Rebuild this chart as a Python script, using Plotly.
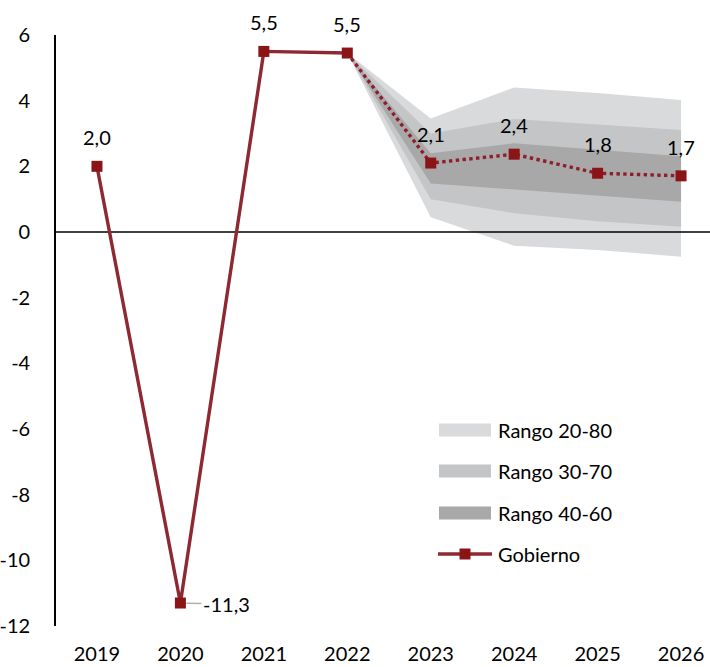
import plotly.graph_objects as go

years = [2019, 2020, 2021, 2022, 2023, 2024, 2025, 2026]
gobierno = [2.0, -11.3, 5.5, 5.45, 2.1, 2.37, 1.79, 1.71]
labels = ["2,0", "-11,3", "5,5", "5,5", "2,1", "2,4", "1,8", "1,7"]

fan_years = [2022, 2023, 2024, 2025, 2026]
r20_80_hi = [5.45, 3.46, 4.40, 4.23, 4.02]
r20_80_lo = [5.45, 0.45, -0.42, -0.55, -0.75]
r30_70_hi = [5.45, 3.00, 3.44, 3.28, 3.11]
r30_70_lo = [5.45, 1.00, 0.57, 0.33, 0.16]
r40_60_hi = [5.45, 2.40, 2.70, 2.50, 2.31]
r40_60_lo = [5.45, 1.48, 1.30, 1.10, 0.92]

band_names = ["Rango 20-80", "Rango 30-70", "Rango 40-60"]
band_colors = ["#d9dadc", "#c4c5c7", "#a8a8a8"]
line_color = "#8e2832"
marker_color = "#8b1416"
dot_color = "#8e1e2c"

X_RANGE = [2018.509, 2026.347]
Y_RANGE = [-12, 6]
FONT = "Lato"
FS = 20

fig = go.Figure()

bands = [(r20_80_hi, r20_80_lo), (r30_70_hi, r30_70_lo), (r40_60_hi, r40_60_lo)]
for (hi, lo), name, col in zip(bands, band_names, band_colors):
    fig.add_trace(go.Scatter(
        x=fan_years + fan_years[::-1], y=hi + lo[::-1],
        fill="toself", fillcolor=col, mode="lines", line=dict(width=0, color=col),
        name=name, showlegend=False, hoverinfo="skip"))

# zero line between bands and series
fig.add_trace(go.Scatter(x=X_RANGE, y=[0, 0], mode="lines",
                         line=dict(color="black", width=1.6), showlegend=False, hoverinfo="skip"))

# solid history
fig.add_trace(go.Scatter(x=years[:4], y=gobierno[:4], mode="lines",
                         line=dict(color=line_color, width=3.4), showlegend=False))
# dotted forecast
fig.add_trace(go.Scatter(x=years[3:], y=gobierno[3:], mode="lines",
                         line=dict(color=dot_color, width=3.4, dash="dot"), showlegend=False))
# markers
fig.add_trace(go.Scatter(x=years, y=gobierno, mode="markers", name="Gobierno",
                         marker=dict(symbol="square", size=11, color=marker_color),
                         showlegend=False))

annotations = []
for yr, v, t in zip(years, gobierno, labels):
    if t == "-11,3":
        annotations.append(dict(x=yr, y=v, text=t, showarrow=True, arrowhead=0,
                                arrowwidth=1.5, arrowcolor="#b0b0b0", ax=46, ay=1,
                                standoff=6, font=dict(family=FONT, size=FS, color="black")))
    else:
        annotations.append(dict(x=yr, y=v, text=t, showarrow=False, yshift=29,
                                font=dict(family=FONT, size=FS, color="black")))

# manual legend
W, H = 710, 667
L, R, T, B = 56, 0, 35, 41
pw, ph = W - L - R, H - T - B

def px(x):
    return (x - L) / pw

def py(y):
    return (H - B - y) / ph

shapes = []
leg_y = [430, 471, 513]
for yy, name, col in zip(leg_y, band_names, band_colors):
    shapes.append(dict(type="rect", xref="paper", yref="paper",
                       x0=px(439), x1=px(491), y0=py(yy + 6.5), y1=py(yy - 6.5),
                       fillcolor=col, line=dict(width=0), layer="above"))
    annotations.append(dict(xref="paper", yref="paper", x=px(496), y=py(yy), text=name,
                            showarrow=False, xanchor="left", yanchor="middle",
                            font=dict(family=FONT, size=FS, color="black")))
gy = 554
shapes.append(dict(type="line", xref="paper", yref="paper", x0=px(438), x1=px(492),
                   y0=py(gy), y1=py(gy), line=dict(color=line_color, width=3.4), layer="above"))
shapes.append(dict(type="rect", xref="paper", yref="paper", x0=px(459.5), x1=px(470.5),
                   y0=py(gy + 5.5), y1=py(gy - 5.5), fillcolor=marker_color,
                   line=dict(width=0), layer="above"))
annotations.append(dict(xref="paper", yref="paper", x=px(496), y=py(gy), text="Gobierno",
                        showarrow=False, xanchor="left", yanchor="middle",
                        font=dict(family=FONT, size=FS, color="black")))

fig.update_layout(
    width=W, height=H,
    margin=dict(l=L, r=R, t=T, b=B, pad=0),
    plot_bgcolor="white", paper_bgcolor="white",
    showlegend=False,
    font=dict(family=FONT, size=FS, color="black"),
    annotations=annotations, shapes=shapes,
    xaxis=dict(range=X_RANGE, tickvals=years, ticktext=[str(y) for y in years],
               showgrid=False, zeroline=False, showline=False, ticks="",
               ticklabelstandoff=14, tickfont=dict(family=FONT, size=FS, color="black")),
    yaxis=dict(range=Y_RANGE, tickvals=list(range(-12, 7, 2)),
               ticktext=[str(v) for v in range(-12, 7, 2)],
               showgrid=False, zeroline=False, showline=True, linecolor="black", linewidth=1.6,
               ticks="", ticklabelstandoff=20, tickfont=dict(family=FONT, size=FS, color="black")),
)

fig.write_html("out.html", config={"displayModeBar": False},
               post_script="document.body.style.margin='0';document.body.style.overflow='hidden';")
